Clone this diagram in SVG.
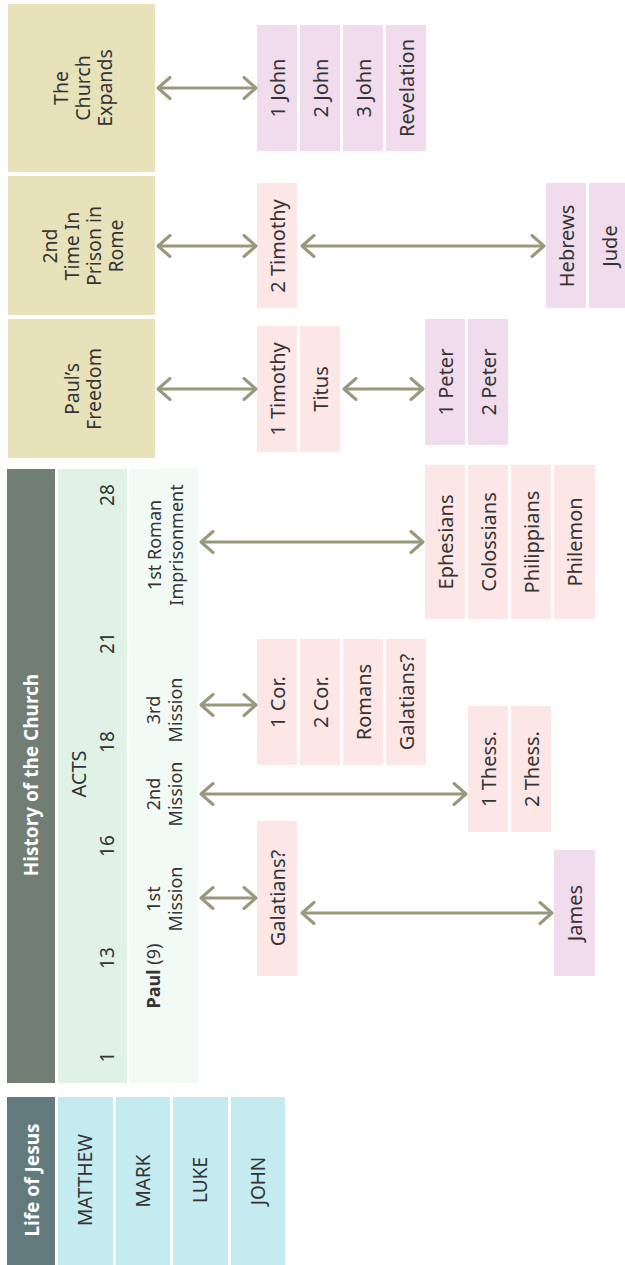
<svg xmlns="http://www.w3.org/2000/svg" width="625" height="1265" viewBox="0 0 625 1265">
<style>
text{font-family:"Noto Sans","Open Sans","Liberation Sans",sans-serif;fill:#333;dominant-baseline:central;text-anchor:middle}
.era{fill:#e8e2bb}
.pa{fill:#fde6e6}
.ge{fill:#f0dcec}
.hd{fill:#fff;font-weight:bold;font-size:19px}
.bk{font-size:20px}
.lb{font-size:19.5px}
.pl{font-size:18px}
.num{font-size:19px}
.gos{fill:#c4ecf0}
.cn line{stroke:#9a987c;stroke-width:3;marker-start:url(#ah);marker-end:url(#ah)}
</style>
<defs>
<marker id="ah" viewBox="0 -12 16 24" refX="14" refY="0" markerWidth="16" markerHeight="24" markerUnits="userSpaceOnUse" orient="auto-start-reverse">
<path d="M2,-10.5 L14,0 L2,10.5" fill="none" stroke="#9a987c" stroke-width="3" stroke-linecap="round" stroke-linejoin="round"/>
</marker>
</defs>
<rect width="625" height="1265" fill="#fff"/>

<!-- era boxes -->
<g id="church-expands">
<rect class="era" x="8" y="4" width="147" height="168"/>
<text class="lb" transform="translate(82,88) rotate(-90)"><tspan x="0" dy="-22">The</tspan><tspan x="0" dy="22">Church</tspan><tspan x="0" dy="22">Expands</tspan></text>
</g>
<g id="second-prison">
<rect class="era" x="8" y="176" width="147" height="139"/>
<text class="lb" transform="translate(82,246) rotate(-90)"><tspan x="0" dy="-33">2nd</tspan><tspan x="0" dy="22">Time In</tspan><tspan x="0" dy="22">Prison in</tspan><tspan x="0" dy="22">Rome</tspan></text>
</g>
<g id="pauls-freedom">
<rect class="era" x="8" y="319" width="147" height="139"/>
<text class="lb" transform="translate(82,389) rotate(-90)"><tspan x="0" dy="-11">Paul’s</tspan><tspan x="0" dy="22">Freedom</tspan></text>
</g>

<!-- history of the church -->
<g id="history">
<rect x="7" y="469" width="48" height="614" fill="#727d74"/>
<text class="hd" transform="translate(31,775) rotate(-90)">History of the Church</text>
</g>
<g id="acts">
<rect x="58" y="469" width="69" height="614" fill="#dff2e5"/>
<text class="bk" transform="translate(78,774) rotate(-90)">ACTS</text>
<text class="num" transform="translate(107,495) rotate(-90)">28</text>
<text class="num" transform="translate(107,643) rotate(-90)">21</text>
<text class="num" transform="translate(107,742) rotate(-90)">18</text>
<text class="num" transform="translate(107,846) rotate(-90)">16</text>
<text class="num" transform="translate(107,958) rotate(-90)">13</text>
<text class="num" transform="translate(107,1057) rotate(-90)">1</text>
</g>
<g id="paul">
<rect x="129" y="469" width="69" height="614" fill="#f2faf5"/>
<text class="pl" transform="translate(165,545) rotate(-90)"><tspan x="0" dy="-11">1st Roman</tspan><tspan x="0" dy="22">Imprisonment</tspan></text>
<text class="pl" transform="translate(164,710) rotate(-90)"><tspan x="0" dy="-11">3rd</tspan><tspan x="0" dy="22">Mission</tspan></text>
<text class="pl" transform="translate(164,794) rotate(-90)"><tspan x="0" dy="-11">2nd</tspan><tspan x="0" dy="22">Mission</tspan></text>
<text class="pl" transform="translate(164,899) rotate(-90)"><tspan x="0" dy="-11">1st</tspan><tspan x="0" dy="22">Mission</tspan></text>
<text class="pl" transform="translate(153,976) rotate(-90)"><tspan font-weight="bold">Paul</tspan> (9)</text>
</g>

<!-- life of jesus -->
<g id="life-of-jesus">
<rect x="7" y="1097" width="48" height="170" fill="#627a7b"/>
<text class="hd" transform="translate(32,1180) rotate(-90)">Life of Jesus</text>
</g>
<g id="matthew"><rect class="gos" x="58" y="1097" width="55" height="170"/><text class="num" transform="translate(85,1180) rotate(-90)">MATTHEW</text></g>
<g id="mark"><rect class="gos" x="116" y="1097" width="54" height="170"/><text class="num" transform="translate(143,1181) rotate(-90)">MARK</text></g>
<g id="luke"><rect class="gos" x="173" y="1097" width="55" height="170"/><text class="num" transform="translate(200,1180) rotate(-90)">LUKE</text></g>
<g id="john"><rect class="gos" x="231" y="1097" width="54" height="170"/><text class="num" transform="translate(258,1181) rotate(-90)">JOHN</text></g>

<!-- books -->
<g id="b-1john"><rect class="ge" x="257" y="25" width="40" height="126"/><text class="bk" transform="translate(277,88) rotate(-90)">1 John</text></g>
<g id="b-2john"><rect class="ge" x="300" y="25" width="40" height="126"/><text class="bk" transform="translate(320,88) rotate(-90)">2 John</text></g>
<g id="b-3john"><rect class="ge" x="343" y="25" width="40" height="126"/><text class="bk" transform="translate(363,88) rotate(-90)">3 John</text></g>
<g id="b-revelation"><rect class="ge" x="386" y="25" width="40" height="126"/><text class="bk" transform="translate(406,88) rotate(-90)">Revelation</text></g>

<g id="b-2timothy"><rect class="pa" x="257" y="183" width="40" height="125"/><text class="bk" transform="translate(277,246) rotate(-90)">2 Timothy</text></g>
<g id="b-hebrews"><rect class="ge" x="546" y="183" width="40" height="125"/><text class="bk" transform="translate(566,246) rotate(-90)">Hebrews</text></g>
<g id="b-jude"><rect class="ge" x="589" y="183" width="40" height="125"/><text class="bk" transform="translate(609,246) rotate(-90)">Jude</text></g>

<g id="b-1timothy"><rect class="pa" x="257" y="326" width="40" height="126"/><text class="bk" transform="translate(277,389) rotate(-90)">1 Timothy</text></g>
<g id="b-titus"><rect class="pa" x="300" y="326" width="40" height="126"/><text class="bk" transform="translate(320,389) rotate(-90)">Titus</text></g>
<g id="b-1peter"><rect class="ge" x="425" y="319" width="40" height="126"/><text class="bk" transform="translate(445,382) rotate(-90)">1 Peter</text></g>
<g id="b-2peter"><rect class="ge" x="468" y="319" width="40" height="126"/><text class="bk" transform="translate(488,382) rotate(-90)">2 Peter</text></g>

<g id="b-ephesians"><rect class="pa" x="425" y="465" width="40" height="154"/><text class="bk" transform="translate(445,542) rotate(-90)">Ephesians</text></g>
<g id="b-colossians"><rect class="pa" x="468" y="465" width="40" height="154"/><text class="bk" transform="translate(488,542) rotate(-90)">Colossians</text></g>
<g id="b-philippians"><rect class="pa" x="511" y="465" width="40" height="154"/><text class="bk" transform="translate(531,542) rotate(-90)">Philippians</text></g>
<g id="b-philemon"><rect class="pa" x="554" y="465" width="41" height="154"/><text class="bk" transform="translate(574,542) rotate(-90)">Philemon</text></g>

<g id="b-1cor"><rect class="pa" x="257" y="639" width="40" height="126"/><text class="bk" transform="translate(277,702) rotate(-90)">1 Cor.</text></g>
<g id="b-2cor"><rect class="pa" x="300" y="639" width="40" height="126"/><text class="bk" transform="translate(320,702) rotate(-90)">2 Cor.</text></g>
<g id="b-romans"><rect class="pa" x="343" y="639" width="40" height="126"/><text class="bk" transform="translate(363,702) rotate(-90)">Romans</text></g>
<g id="b-galatians-3"><rect class="pa" x="386" y="639" width="40" height="126"/><text class="bk" transform="translate(406,702) rotate(-90)">Galatians?</text></g>

<g id="b-1thess"><rect class="pa" x="468" y="706" width="40" height="126"/><text class="bk" transform="translate(488,769) rotate(-90)">1 Thess.</text></g>
<g id="b-2thess"><rect class="pa" x="511" y="706" width="40" height="126"/><text class="bk" transform="translate(531,769) rotate(-90)">2 Thess.</text></g>

<g id="b-galatians-1"><rect class="pa" x="257" y="821" width="40" height="155"/><text class="bk" transform="translate(277,898) rotate(-90)">Galatians?</text></g>
<g id="b-james"><rect class="ge" x="554" y="850" width="41" height="126"/><text class="bk" transform="translate(574,913) rotate(-90)">James</text></g>

<!-- connectors -->
<g id="connectors" class="cn">
<line x1="158" y1="88" x2="256" y2="88"/>
<line x1="158" y1="246" x2="256" y2="246"/>
<line x1="302" y1="246" x2="544" y2="246"/>
<line x1="158" y1="389" x2="256" y2="389"/>
<line x1="344" y1="389" x2="423" y2="389"/>
<line x1="201" y1="542" x2="423" y2="542"/>
<line x1="201" y1="705" x2="256" y2="705"/>
<line x1="201" y1="794" x2="466" y2="794"/>
<line x1="201" y1="898" x2="256" y2="898"/>
<line x1="302" y1="913" x2="552" y2="913"/>
</g>
</svg>
